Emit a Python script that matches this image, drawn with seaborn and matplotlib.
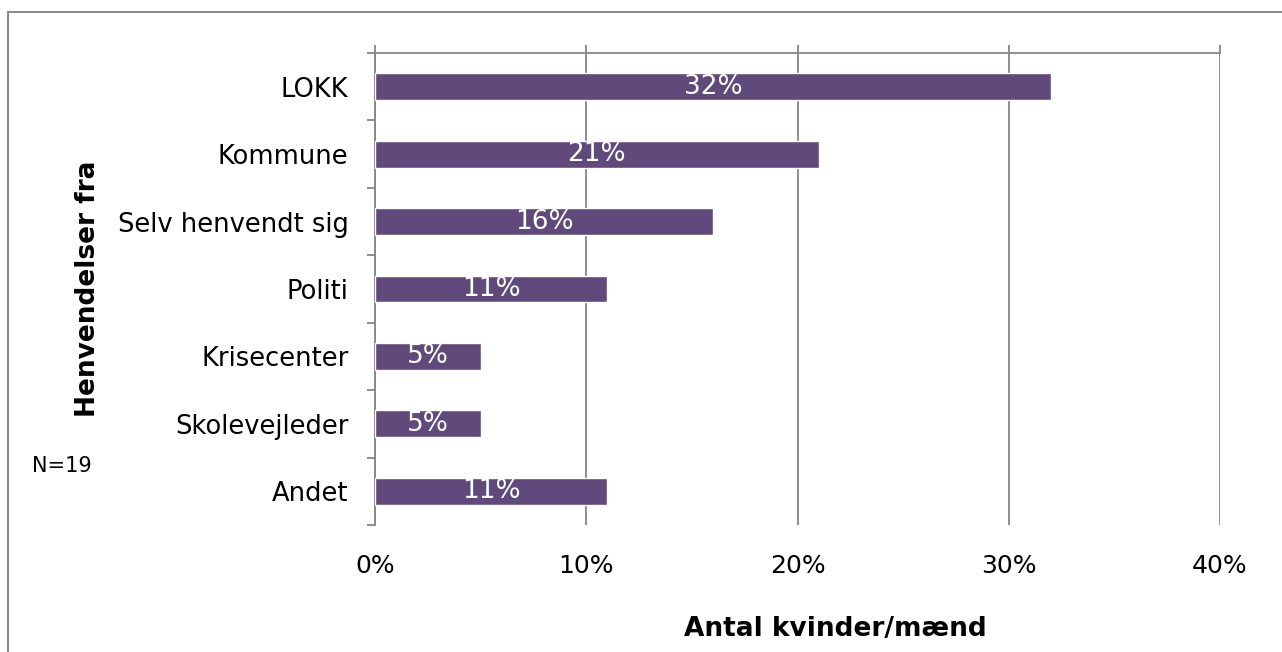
import numpy as np
import pandas as pd
import matplotlib
matplotlib.use('Agg')
import matplotlib.pyplot as plt
from matplotlib.patches import Rectangle
import seaborn as sns

# data
categories = ['LOKK', 'Kommune', 'Selv henvendt sig', 'Politi',
              'Krisecenter', 'Skolevejleder', 'Andet']
shares = [32, 21, 16, 11, 5, 5, 11]
bar_labels = ['32%', '21%', '16%', '11%', '5%', '5%', '11%']
x_ticks = [0, 10, 20, 30, 40]
x_ticklabels = ['0%', '10%', '20%', '30%', '40%']

sns.set_style('white')
plt.rcParams['font.family'] = ['DejaVu Sans']
plt.rcParams['text.color'] = 'black'
plt.rcParams['axes.labelcolor'] = 'black'
plt.rcParams['xtick.labelcolor'] = 'black'
plt.rcParams['ytick.labelcolor'] = 'black'

bar_color = '#604A7B'
line_gray = '#868686'

df = pd.DataFrame({'kategori': categories, 'andel': shares})

fig = plt.figure(figsize=(12.82, 6.52), dpi=100)
ax = fig.add_axes([375 / 1282, 1 - 525 / 652, 845 / 1282, 472 / 652])

sns.barplot(data=df, x='andel', y='kategori', orient='h', color=bar_color,
            saturation=1, width=0.4, ax=ax, zorder=3)

# value labels inside the bars
ax.bar_label(ax.containers[0], labels=bar_labels, label_type='center',
             color='white', fontsize=19)

ax.set_xlim(0, 40)
ax.set_ylim(6.5, -0.5)
ax.set_xticks(x_ticks)
ax.set_xticklabels(x_ticklabels)
ax.set_yticks(range(len(categories)))
ax.set_yticks(np.arange(-0.5, len(categories)), minor=True)

ax.grid(axis='x', color=line_gray, lw=1.3, zorder=0)
ax.set_axisbelow(True)

for side in ['left', 'top']:
    ax.spines[side].set_color(line_gray)
    ax.spines[side].set_linewidth(1.3)
for side in ['right', 'bottom']:
    ax.spines[side].set_visible(False)

ax.tick_params(axis='x', top=True, bottom=False, labeltop=False,
               labelbottom=True, direction='out', length=6, width=1.3,
               color=line_gray, pad=15, labelsize=18)
ax.tick_params(axis='y', which='major', length=0, pad=19, labelsize=18.5)
ax.tick_params(axis='y', which='minor', left=True, length=6, width=1.3,
               color=line_gray, direction='out')

ax.set_xlabel('Antal kvinder/mænd', fontsize=19, fontweight='bold')
ax.xaxis.set_label_coords((835 - 375) / 845, (525 - 616) / 472)
ax.set_ylabel('Henvendelser fra', fontsize=19, fontweight='bold')
ax.yaxis.set_label_coords((101 - 375) / 845, 0.5)

fig.text(32 / 1282, 1 - 466 / 652, 'N=19', fontsize=15, va='center', ha='left')

# outer chart frame (only left and top edges fall inside the image)
fig.add_artist(Rectangle((8 / 1282, -0.2), 1.5, 1.2 - 12 / 652,
                         transform=fig.transFigure, fill=False,
                         edgecolor='#8c8c8c', lw=1.5))

fig.savefig('out.png', dpi=100)
plt.close(fig)
